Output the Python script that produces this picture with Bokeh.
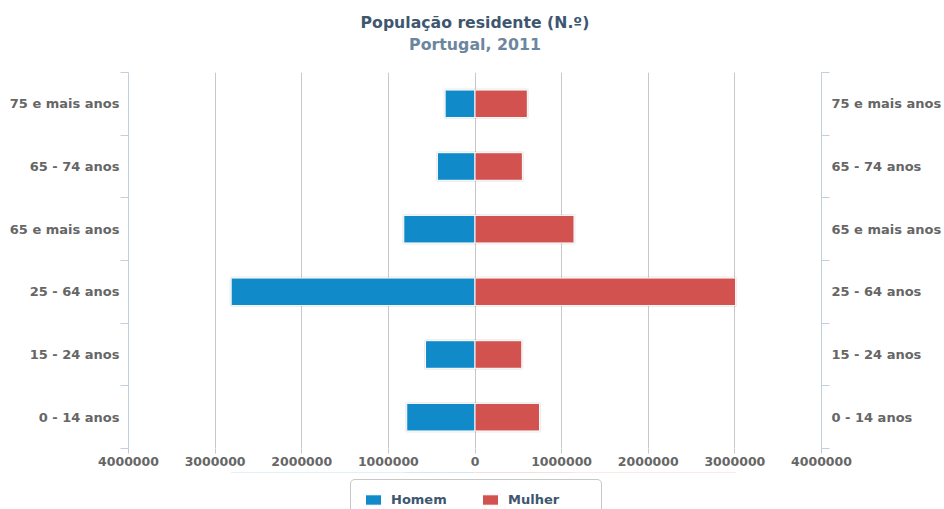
import numpy as np
from bokeh.plotting import figure
from bokeh.layouts import column
from bokeh.models import (Range1d, LinearAxis, FixedTicker, Grid, Legend,
                          LegendItem, Label, ColumnDataSource)
from bokeh.embed import file_html
from bokeh.resources import INLINE

# ---- data (bottom to top) ----
categories = ["0 - 14 anos", "15 - 24 anos", "25 - 64 anos",
              "65 e mais anos", "65 - 74 anos", "75 e mais anos"]
homem = [788000, 571000, 2815000, 822000, 434000, 345000]
mulher = [745000, 540000, 3009000, 1143000, 547000, 604000]
x_ticks = [-4000000, -3000000, -2000000, -1000000, 0,
           1000000, 2000000, 3000000, 4000000]
series_names = ["Homem", "Mulher"]
title_text = "População residente (N.º)"
subtitle_text = "Portugal, 2011"

FONT = "DejaVu Sans"
BLUE = "#108ac8"
RED = "#d25250"
LABEL_COL = "#666666"
AXIS_COL = "#c0d0e0"
GRID_COL = "#c8c8c8"

n = len(categories)
pos = np.arange(n) + 0.5
src = ColumnDataSource(dict(
    y=pos,
    cat=categories,
    h_left=-np.array(homem, dtype=float),
    zero=np.zeros(n),
    m_right=np.array(mulher, dtype=float),
))


def strip(height):
    return figure(width=944, height=height,
                  x_range=Range1d(x_ticks[0], x_ticks[-1]),
                  y_range=Range1d(-2, -1),
                  x_axis_type=None, y_axis_type=None, title=None,
                  output_backend="svg", toolbar_location=None,
                  min_border_left=0, min_border_right=0,
                  min_border_top=0, min_border_bottom=0,
                  outline_line_color=None, background_fill_color="white")


# ---- title strip ----
p0 = strip(68)
p0.add_layout(Label(x=0, y=46, x_units="data", y_units="screen",
                    text=title_text, text_align="center",
                    text_baseline="middle", text_font=FONT,
                    text_font_size="15.7px", text_font_style="bold",
                    text_color="#3e576f"))
p0.add_layout(Label(x=0, y=24, x_units="data", y_units="screen",
                    text=subtitle_text, text_align="center",
                    text_baseline="middle", text_font=FONT,
                    text_font_size="15.8px", text_font_style="bold",
                    text_color="#6d869f"))

# ---- main chart ----
p = figure(width=944, height=404,
           x_range=Range1d(x_ticks[0], x_ticks[-1]),
           y_range=Range1d(0, n),
           x_axis_type=None, y_axis_type=None, title=None,
           output_backend="svg", toolbar_location=None,
           min_border_left=128, min_border_right=121,
           min_border_top=4, min_border_bottom=24,
           outline_line_color=None, background_fill_color="white")

xticker = FixedTicker(ticks=x_ticks, minor_ticks=[])
xaxis = LinearAxis(ticker=xticker,
                   major_label_overrides={float(t): str(abs(int(t))) for t in x_ticks},
                   axis_line_color=None,
                   major_tick_in=0, major_tick_out=5,
                   major_tick_line_color=GRID_COL,
                   minor_tick_in=0, minor_tick_out=0,
                   major_label_standoff=3,
                   major_label_text_font=FONT,
                   major_label_text_font_style="bold",
                   major_label_text_font_size="12.5px",
                   major_label_text_color=LABEL_COL)
p.add_layout(xaxis, "below")
p.add_layout(Grid(dimension=0, ticker=xticker, grid_line_color=GRID_COL))

yticker = FixedTicker(ticks=list(pos), minor_ticks=list(np.arange(n + 1)))
overrides = {float(c): lab for c, lab in zip(pos, categories)}


def make_yaxis(standoff):
    return LinearAxis(ticker=yticker,
                      major_label_overrides=overrides,
                      axis_line_color=AXIS_COL,
                      major_tick_in=0, major_tick_out=0,
                      minor_tick_in=0, minor_tick_out=8,
                      minor_tick_line_color=AXIS_COL,
                      major_label_standoff=standoff,
                      major_label_text_font=FONT,
                      major_label_text_font_style="bold",
                      major_label_text_font_size="13px",
                      major_label_text_color=LABEL_COL)


p.add_layout(make_yaxis(1), "left")
p.add_layout(make_yaxis(2), "right")

for l, r in (("h_left", "zero"), ("zero", "m_right")):
    p.hbar(y="y", left=l, right=r, height=0.44, source=src,
           fill_alpha=0, line_color="black", line_alpha=0.08, line_width=3)

p.hbar(y="y", left="h_left", right="zero", height=0.44, source=src,
       fill_color=BLUE, line_color="white", line_width=1)
p.hbar(y="y", left="zero", right="m_right", height=0.44, source=src,
       fill_color=RED, line_color="white", line_width=1)

# ---- legend strip (same bars, outside its visible y range) ----
p2 = strip(37)
lh = p2.hbar(y="y", left="h_left", right="zero", height=0.44, source=src,
             fill_color=BLUE, line_color="white", line_width=1)
lm = p2.hbar(y="y", left="zero", right="m_right", height=0.44, source=src,
             fill_color=RED, line_color="white", line_width=1)

legend = Legend(items=[LegendItem(label=series_names[0], renderers=[lh]),
                       LegendItem(label=series_names[1], renderers=[lm])],
                orientation="horizontal", location=(222, -11),
                border_line_color="#909090", border_line_width=1,
                background_fill_color="white", background_fill_alpha=1,
                label_text_font=FONT, label_text_font_style="bold",
                label_text_font_size="13px", label_text_color="#3e576f",
                glyph_width=20, glyph_height=13, label_standoff=8,
                label_width=81, spacing=8, padding=12, margin=0)
if "border_radius" in Legend.properties():
    legend.border_radius = 5
p2.add_layout(legend, "center")

open("out.html", "w").write(file_html(column(p0, p, p2, spacing=0), INLINE))
